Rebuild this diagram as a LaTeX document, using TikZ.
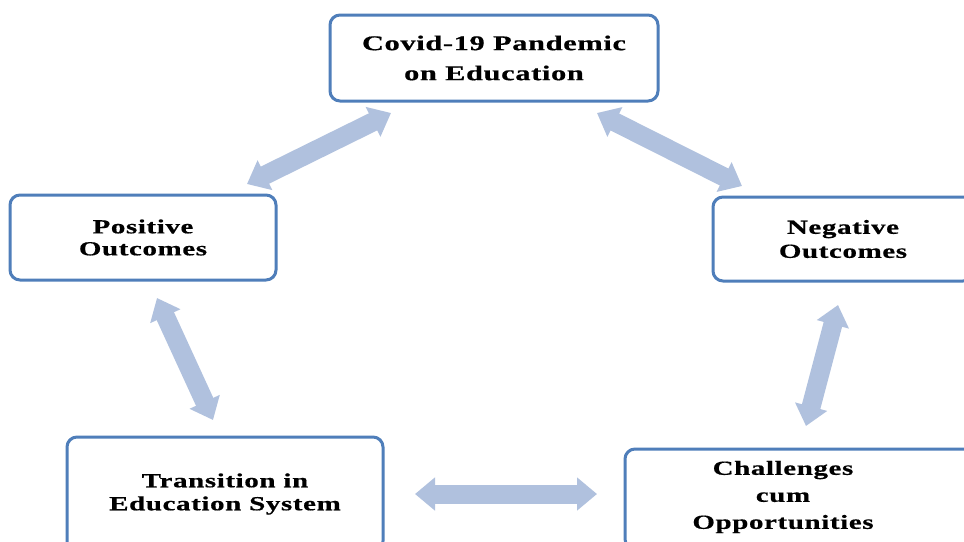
\documentclass[tikz,border=0pt]{standalone}
\usepackage{fontspec}
\newfontfamily\labfont[FakeStretch=1.45,LetterSpace=3,FakeBold=0.6]{Liberation Serif}
\usetikzlibrary{arrows.meta}
\definecolor{boxblue}{HTML}{4F7EBA}
\definecolor{arrowblue}{HTML}{B0C1DE}
\begin{document}
\begin{tikzpicture}[x=1pt,y=-1pt,
  box/.style={draw=boxblue, line width=3pt, rounded corners=10pt, fill=white, inner sep=0pt, align=center},
  lab/.style={align=center, inner sep=0pt},
  link/.style={draw=arrowblue, line width=19pt, line cap=butt,
    {Triangle[length=20pt,width=32pt]}-{Triangle[length=20pt,width=32pt]}}]
\useasboundingbox (0,0) rectangle (964,541);
\clip (0,0) rectangle (964,541);
\fill[white] (0,0) rectangle (964,541);

\node[box, minimum width=328, minimum height=86,
  font=\labfont\bfseries\fontsize{21}{30}\selectfont] (cov) at (494,58)
  {Covid-19 Pandemic\\on Education};
\node[box, minimum width=266, minimum height=85,
  font=\labfont\bfseries\fontsize{20}{22}\selectfont] (pos) at (143,237.5)
  {Positive\\Outcomes};
\node[box, minimum width=260, minimum height=84,
  font=\labfont\bfseries\fontsize{20}{24}\selectfont] (neg) at (843,239)
  {Negative\\Outcomes};
\node[box, minimum width=316, minimum height=114,
  font=\labfont\bfseries\fontsize{20}{23}\selectfont] (tra) at (225,494)
  {Transition in\\Education System};
\node[box, minimum width=350, minimum height=100] (chb) at (800,499) {};
\node[lab, font=\labfont\bfseries\fontsize{20}{27}\selectfont] (cht) at (783,497)
  {Challenges\\cum\\Opportunities};

\coordinate (a1s) at (247,184);
\coordinate (a1e) at (391,113);
\coordinate (a2s) at (597,113);
\coordinate (a2e) at (742,186);
\coordinate (a3s) at (157,298);
\coordinate (a3e) at (213,420);
\coordinate (a4s) at (838,305);
\coordinate (a4e) at (806,426);
\coordinate (a5s) at (415,494);
\coordinate (a5e) at (597,494);

\draw[link] (a1s) -- (a1e);
\draw[link] (a2s) -- (a2e);
\draw[link] (a3s) -- (a3e);
\draw[link] (a4s) -- (a4e);
\draw[link] (a5s) -- (a5e);
\end{tikzpicture}
\end{document}
